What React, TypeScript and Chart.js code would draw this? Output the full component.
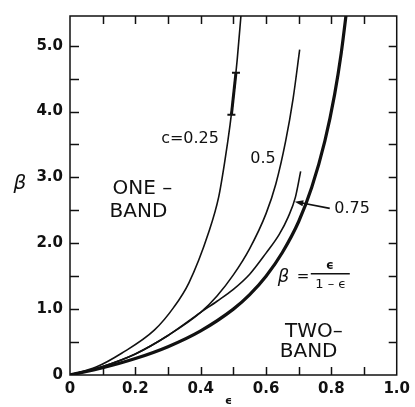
import React, { useEffect, useRef } from "react";
import { Chart, registerables } from "chart.js";

Chart.register(...registerables);

// Transition curves beta(epsilon) for several concentrations c
const epsC025 = [0, 0.08, 0.158, 0.258, 0.318, 0.364, 0.424, 0.455, 0.474, 0.49, 0.502, 0.512, 0.524, 0.53];
const betaC025 = [0, 0.12, 0.33, 0.68, 1.03, 1.4, 2.16, 2.7, 3.25, 3.8, 4.3, 4.8, 5.5, 5.85];

const epsC05 = [0, 0.1, 0.2, 0.3, 0.4, 0.45, 0.5, 0.55, 0.6, 0.63, 0.66, 0.683, 0.703];
const betaC05 = [0, 0.13, 0.32, 0.6, 0.95, 1.2, 1.52, 1.92, 2.45, 2.9, 3.55, 4.2, 4.94];

const epsC075 = [0, 0.1, 0.2, 0.3, 0.4, 0.45, 0.5, 0.55, 0.6, 0.64, 0.668, 0.69, 0.706];
const betaC075 = [0, 0.13, 0.32, 0.6, 0.95, 1.12, 1.3, 1.53, 1.85, 2.13, 2.4, 2.7, 3.09];

// Limiting curve beta = eps / (1 - eps)
const epsLimit = [0, 0.1, 0.2, 0.3, 0.4, 0.5, 0.55, 0.6, 0.65, 0.7, 0.74, 0.78, 0.81, 0.83, 0.85];
const betaLimit = [0, 0.11, 0.25, 0.43, 0.67, 1.0, 1.22, 1.5, 1.86, 2.33, 2.85, 3.55, 4.26, 4.88, 5.67];

// Uncertainty bar on the c = 0.25 curve
const errEps = [0.494, 0.508];
const errBeta = [3.95, 4.59];

// Axis ranges and tick spacing
const xRange = [0, 1];
const yRange = [0, 5.45];
const xStep = 0.1;
const yStep = 0.5;

const INK = "#111";
const FONT = "DejaVu Sans";

const pts = (xs: number[], ys: number[]) => xs.map((x, i) => ({ x, y: ys[i] }));

// Region and curve labels, anchored in data coordinates (left edge, vertical centre)
const notes = [
  { text: "c=0.25", x: 0.279, y: 3.58, size: 16 },
  { text: "0.5", x: 0.552, y: 3.28, size: 16 },
  { text: "0.75", x: 0.809, y: 2.53, size: 16 },
  { text: "ONE –", x: 0.13, y: 2.82, size: 20 },
  { text: "BAND", x: 0.121, y: 2.48, size: 20 },
  { text: "TWO–", x: 0.658, y: 0.65, size: 20 },
  { text: "BAND", x: 0.642, y: 0.35, size: 20 },
];

const arrowFrom = { x: 0.795, y: 2.53 };
const arrowTo = { x: 0.688, y: 2.63 };
const formulaAt = { x: 0.636, y: 1.49 };

const decorate = {
  id: "decorate",
  afterDraw(chart: any) {
    const { ctx, chartArea: a, scales } = chart;
    const xs = scales.x;
    const ys = scales.y;
    ctx.save();
    ctx.strokeStyle = INK;
    ctx.fillStyle = INK;
    ctx.lineWidth = 1.5;
    ctx.lineCap = "butt";

    // frame
    ctx.strokeRect(a.left, a.top, a.right - a.left, a.bottom - a.top);

    const seg = (x1: number, y1: number, x2: number, y2: number) => {
      ctx.beginPath();
      ctx.moveTo(x1, y1);
      ctx.lineTo(x2, y2);
      ctx.stroke();
    };

    // inward tick marks on all four sides
    xs.ticks.forEach((t: any) => {
      if (t.value <= xs.min + 1e-9 || t.value >= xs.max - 1e-9) return;
      const px = Math.round(xs.getPixelForValue(t.value)) + 0.5;
      seg(px, a.bottom, px, a.bottom - 8);
      seg(px, a.top, px, a.top + 8);
    });
    ys.ticks.forEach((t: any) => {
      if (t.value <= ys.min + 1e-9 || t.value >= ys.max - 1e-9) return;
      const py = Math.round(ys.getPixelForValue(t.value)) + 0.5;
      seg(a.left, py, a.left + 9, py);
      seg(a.right, py, a.right - 8, py);
    });

    // text labels
    ctx.textBaseline = "middle";
    ctx.textAlign = "left";
    notes.forEach((n) => {
      ctx.font = `${n.size}px "${FONT}"`;
      ctx.fillText(n.text, xs.getPixelForValue(n.x), ys.getPixelForValue(n.y));
    });

    // arrow pointing at the c = 0.75 curve
    const ax1 = xs.getPixelForValue(arrowFrom.x);
    const ay1 = ys.getPixelForValue(arrowFrom.y);
    const ax2 = xs.getPixelForValue(arrowTo.x);
    const ay2 = ys.getPixelForValue(arrowTo.y);
    ctx.lineWidth = 1.6;
    seg(ax1, ay1, ax2 + 6, ay2 + 1);
    const ang = Math.atan2(ay2 - ay1, ax2 - ax1);
    ctx.beginPath();
    ctx.moveTo(ax2, ay2);
    ctx.lineTo(ax2 - 9 * Math.cos(ang - 0.35), ay2 - 9 * Math.sin(ang - 0.35));
    ctx.lineTo(ax2 - 9 * Math.cos(ang + 0.35), ay2 - 9 * Math.sin(ang + 0.35));
    ctx.closePath();
    ctx.fill();

    // beta = eps / (1 - eps)
    const fx = xs.getPixelForValue(formulaAt.x);
    const fy = ys.getPixelForValue(formulaAt.y);
    ctx.font = `oblique 18px "${FONT}"`;
    ctx.fillText("β", fx, fy);
    ctx.font = `15px "${FONT}"`;
    ctx.fillText("=", fx + 19, fy);
    ctx.lineWidth = 1.5;
    seg(fx + 33, fy - 3, fx + 72, fy - 3);
    ctx.textAlign = "center";
    ctx.font = `bold 12px "${FONT}"`;
    ctx.fillText("ϵ", fx + 52, fy - 11);
    ctx.font = `13px "${FONT}"`;
    ctx.fillText("1 – ϵ", fx + 53, fy + 8);

    // axis symbols
    ctx.font = `oblique 20px "${FONT}"`;
    ctx.fillText("β", a.left - 50, ys.getPixelForValue(2.91));
    ctx.font = `bold 11px "${FONT}"`;
    ctx.fillText("ϵ", xs.getPixelForValue(0.485), a.bottom + 26);

    ctx.restore();
  },
};

export default function App() {
  const ref = useRef<HTMLCanvasElement | null>(null);

  useEffect(() => {
    if (!ref.current) return;
    const curve = (data: any[], width: number) => ({
      data,
      showLine: true,
      borderColor: INK,
      borderWidth: width,
      pointRadius: 0,
      pointHoverRadius: 0,
      cubicInterpolationMode: "monotone" as const,
      fill: false,
    });

    const chart = new Chart(ref.current, {
      type: "scatter",
      data: {
        datasets: [
          { label: "c=0.25", ...curve(pts(epsC025, betaC025), 1.6) },
          { label: "c=0.5", ...curve(pts(epsC05, betaC05), 1.6) },
          { label: "c=0.75", ...curve(pts(epsC075, betaC075), 1.6) },
          { label: "limit", ...curve(pts(epsLimit, betaLimit), 3.2) },
          {
            label: "error",
            data: pts(errEps, errBeta),
            showLine: true,
            borderColor: INK,
            backgroundColor: INK,
            borderWidth: 3,
            pointStyle: "line",
            pointRadius: 4,
            pointBorderWidth: 2,
            pointBorderColor: INK,
          },
        ],
      },
      options: {
        animation: false,
        responsive: false,
        devicePixelRatio: 1,
        events: [],
        layout: { padding: { left: 8, right: 15, top: 13, bottom: 0 } },
        plugins: {
          legend: { display: false },
          tooltip: { enabled: false },
        },
        scales: {
          x: {
            type: "linear",
            min: xRange[0],
            max: xRange[1],
            grid: { display: false, drawTicks: false },
            border: { display: false },
            afterFit: (s: any) => {
              s.height = 32;
            },
            ticks: {
              stepSize: xStep,
              autoSkip: false,
              maxRotation: 0,
              padding: 5,
              color: INK,
              font: { family: FONT, size: 15, weight: "bold" },
              callback: (v: any) => {
                const k = Math.round(Number(v) * 10);
                if (k % 2 !== 0) return "";
                return k === 0 ? "0" : (k / 10).toFixed(1);
              },
            },
          },
          y: {
            type: "linear",
            min: yRange[0],
            max: yRange[1],
            grid: { display: false, drawTicks: false },
            border: { display: false },
            afterFit: (s: any) => {
              s.width = 62;
            },
            ticks: {
              stepSize: yStep,
              autoSkip: false,
              padding: 7,
              color: INK,
              font: { family: FONT, size: 15, weight: "bold" },
              callback: (v: any) => {
                const n = Number(v);
                if (Math.abs(n - Math.round(n)) > 1e-6) return "";
                return n === 0 ? "0" : n.toFixed(1);
              },
            },
          },
        },
      },
      plugins: [decorate],
    });
    return () => chart.destroy();
  }, []);

  return (
    <div style={{ position: "fixed", left: 0, top: 0, width: 415, height: 407, background: "#fff" }}>
      <canvas ref={ref} width={415} height={407} />
    </div>
  );
}
